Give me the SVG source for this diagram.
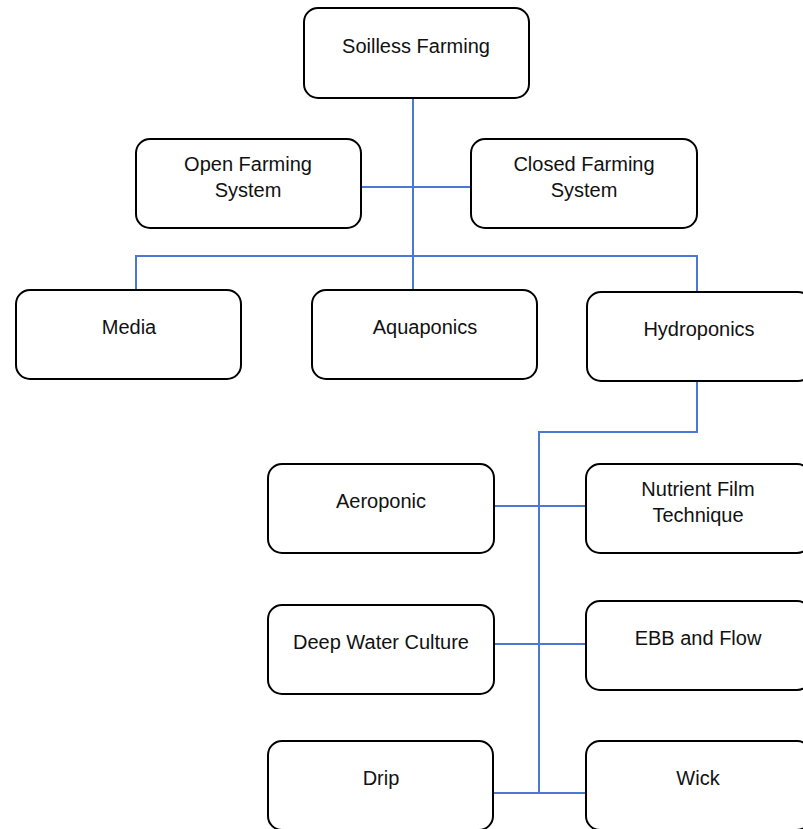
<svg xmlns="http://www.w3.org/2000/svg" width="803" height="829" viewBox="0 0 803 829">
<style>
.box{fill:#fff;stroke:#000;stroke-width:2}
.t{font-family:"Liberation Sans",Arial,sans-serif;font-size:20px;fill:#111;text-anchor:middle}
.c{fill:none;stroke:#4a78d2;stroke-width:2}
</style>
<rect width="803" height="829" fill="#fff"/>
<g id="connectors">
<path class="c" d="M413 98V290"/>
<path class="c" d="M361 187H471"/>
<path class="c" d="M136 290V256H697V292"/>
<path class="c" d="M697 381V432H539V793"/>
<path class="c" d="M494 506H586"/>
<path class="c" d="M494 644H586"/>
<path class="c" d="M493 793H586"/>
</g>
<g id="soilless"><rect class="box" x="304" y="8" width="225" height="90" rx="14"/><text class="t" x="416" y="53">Soilless Farming</text></g>
<g id="open"><rect class="box" x="136" y="139" width="225" height="89" rx="14"/><text class="t" x="248" y="171">Open Farming</text><text class="t" x="248" y="197">System</text></g>
<g id="closed"><rect class="box" x="471" y="139" width="226" height="89" rx="14"/><text class="t" x="584" y="171">Closed Farming</text><text class="t" x="584" y="197">System</text></g>
<g id="media"><rect class="box" x="16" y="290" width="225" height="89" rx="14"/><text class="t" x="129" y="334">Media</text></g>
<g id="aquaponics"><rect class="box" x="312" y="290" width="225" height="89" rx="14"/><text class="t" x="425" y="334">Aquaponics</text></g>
<g id="hydroponics"><rect class="box" x="587" y="292" width="225" height="89" rx="14"/><text class="t" x="699" y="336">Hydroponics</text></g>
<g id="aeroponic"><rect class="box" x="268" y="464" width="226" height="89" rx="14"/><text class="t" x="381" y="508">Aeroponic</text></g>
<g id="nft"><rect class="box" x="586" y="464" width="225" height="89" rx="14"/><text class="t" x="698" y="496">Nutrient Film</text><text class="t" x="698" y="522">Technique</text></g>
<g id="dwc"><rect class="box" x="268" y="605" width="226" height="89" rx="14"/><text class="t" x="381" y="649">Deep Water Culture</text></g>
<g id="ebb"><rect class="box" x="586" y="601" width="225" height="89" rx="14"/><text class="t" x="698" y="645">EBB and Flow</text></g>
<g id="drip"><rect class="box" x="268" y="741" width="225" height="89" rx="14"/><text class="t" x="381" y="785">Drip</text></g>
<g id="wick"><rect class="box" x="586" y="741" width="225" height="89" rx="14"/><text class="t" x="698" y="785">Wick</text></g>
</svg>
